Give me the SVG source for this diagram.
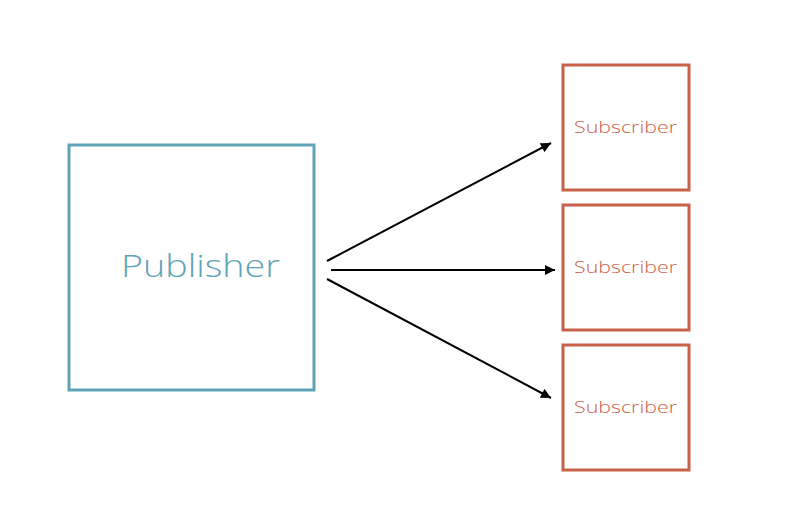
<svg xmlns="http://www.w3.org/2000/svg" width="789" height="531" viewBox="0 0 789 531">
<style>
.pub{fill:none;stroke:#5fa3b6;stroke-width:3}
.sub{fill:none;stroke:#c9604a;stroke-width:3}
.pt{font-family:"Open Sans",Lato,"Liberation Sans",sans-serif;font-weight:300;font-size:32px;fill:#5fa3b6}
.st{font-family:"Open Sans",Lato,"Liberation Sans",sans-serif;font-weight:300;font-size:17px;fill:#c9604a}
.c{stroke:#000;stroke-width:2;fill:none}
</style>
<defs>
<marker id="ah" viewBox="0 0 10 10" refX="10" refY="5" markerWidth="12" markerHeight="10" markerUnits="userSpaceOnUse" orient="auto">
<path d="M0,0 L10,5 L0,10 z" fill="#000"/>
</marker>
</defs>
<rect width="789" height="531" fill="#fff"/>
<g id="publisher">
<rect class="pub" x="69" y="145" width="245" height="245"/>
<text class="pt" x="121" y="277" textLength="159" lengthAdjust="spacingAndGlyphs">Publisher</text>
</g>
<g id="subscriber1">
<rect class="sub" x="563" y="65" width="126" height="125"/>
<text class="st" x="574" y="133" textLength="103" lengthAdjust="spacingAndGlyphs">Subscriber</text>
</g>
<g id="subscriber2">
<rect class="sub" x="563" y="205" width="126" height="125"/>
<text class="st" x="574" y="273" textLength="103" lengthAdjust="spacingAndGlyphs">Subscriber</text>
</g>
<g id="subscriber3">
<rect class="sub" x="563" y="345" width="126" height="125"/>
<text class="st" x="574" y="413" textLength="103" lengthAdjust="spacingAndGlyphs">Subscriber</text>
</g>
<g id="connectors">
<line class="c" x1="327" y1="261" x2="551" y2="143" marker-end="url(#ah)"/>
<line class="c" x1="331" y1="270" x2="555" y2="270" marker-end="url(#ah)"/>
<line class="c" x1="327" y1="279" x2="551" y2="398" marker-end="url(#ah)"/>
</g>
</svg>
